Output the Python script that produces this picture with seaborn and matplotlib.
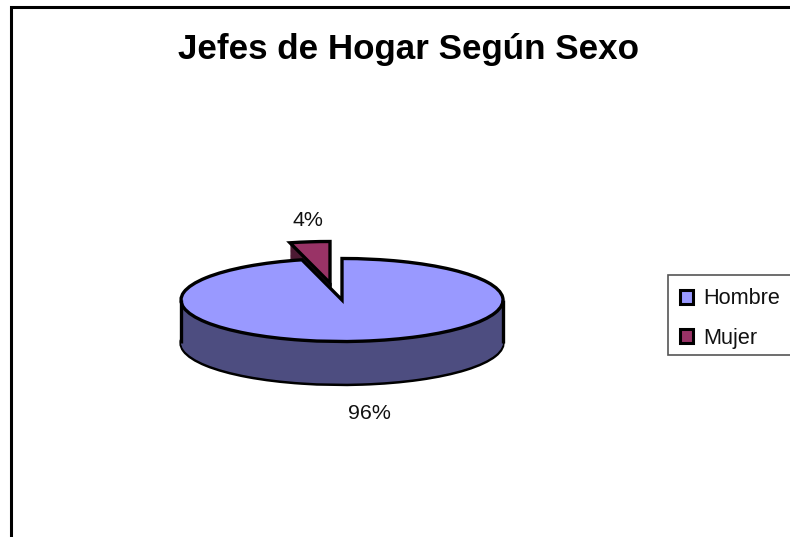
import numpy as np
import matplotlib
matplotlib.use('Agg')
import matplotlib.pyplot as plt
import seaborn as sns
from matplotlib.patches import Rectangle

categories = ['Hombre', 'Mujer']
values = [96, 4]
top_colors = ['#9999FF', '#993366']
side_colors = ['#4D4D80', '#4D1A33']
title = 'Jefes de Hogar Según Sexo'

sns.set_theme(style='white')
plt.rcParams['font.family'] = ['Liberation Sans', 'DejaVu Sans']

W, H = 790, 537
# pie geometry in pixels
cx, cy = 342, 300
rx, ry = 161, 41.5
depth = 43
lw = 2.4

fig = plt.figure(figsize=(W / 100, H / 100), dpi=100, facecolor='white')
ax = fig.add_axes([0, 0, 1, 1])

unit_depth = depth / ry
mujer_shift = (-12 / rx, 17 / ry)


def draw_slice(idx, colors, offset, edge=True):
    """Draw one slice of the pie, the other one stays invisible."""
    wedges, _ = ax.pie(values, startangle=90, counterclock=False,
                       colors=colors, center=(0, -offset),
                       wedgeprops=dict(edgecolor='black' if edge else 'none',
                                       linewidth=lw if edge else 0,
                                       joinstyle='miter'))
    wedges[1 - idx].set_visible(False)
    if idx == 1:
        wedges[1].set_center((mujer_shift[0], mujer_shift[1] - offset))
    return wedges[idx]


# side of the pulled out slice, then its top
draw_slice(1, side_colors, unit_depth)
for d in np.arange(unit_depth - 0.02, 0, -0.02):
    draw_slice(1, side_colors, d, edge=False)
mujer = draw_slice(1, top_colors, 0)

# side of the big slice, then its top
draw_slice(0, side_colors, unit_depth)
for d in np.arange(unit_depth - 0.02, 0, -0.02):
    draw_slice(0, side_colors, d, edge=False)
ax.vlines([-1, 1], -unit_depth, 0, color='black', lw=lw)
hombre = draw_slice(0, top_colors, 0)

ax.set_aspect('auto')
ax.set_xlim(-cx / rx, (W - cx) / rx)
ax.set_ylim((cy - H) / ry, cy / ry)
ax.axis('off')

# chart border runs off the right and bottom edge
fig.add_artist(Rectangle((10.5 / W, -0.05), 1, 1.05 - 6.5 / H, transform=fig.transFigure,
                         fill=False, edgecolor='black', linewidth=2.2))

fig.text(409 / W, 1 - 59 / H, title, fontsize=25.2, fontweight='bold',
         color='black', ha='center', va='baseline')
fig.text(308 / W, 1 - 220.5 / H, f'{values[1]}%', fontsize=15.4, color='#111111',
         ha='center', va='center')
fig.text(369 / W, 1 - 413.5 / H, f'{values[0]}%', fontsize=15.4, color='#111111',
         ha='center', va='center')

# legend frame also runs off the right edge
frame = Rectangle((668 / W, 1 - 355 / H), 1, 80 / H, transform=fig.transFigure,
                  facecolor='white', edgecolor='#555555', linewidth=1.2,
                  clip_on=False, zorder=5)
ax.add_artist(frame)
leg = ax.legend([hombre, mujer], categories, loc='upper left',
                bbox_to_anchor=(669 / W, 1 - 277.5 / H),
                bbox_transform=fig.transFigure, borderaxespad=0,
                fontsize=15.6, frameon=False,
                handlelength=0.6, handleheight=0.6, handletextpad=0.5,
                labelspacing=0.85, borderpad=0.5)
leg.set_zorder(10)
for handle in leg.legend_handles:
    handle.set_linewidth(2.2)
for text in leg.get_texts():
    text.set_color('#111111')

fig.savefig('out.png', dpi=100)
